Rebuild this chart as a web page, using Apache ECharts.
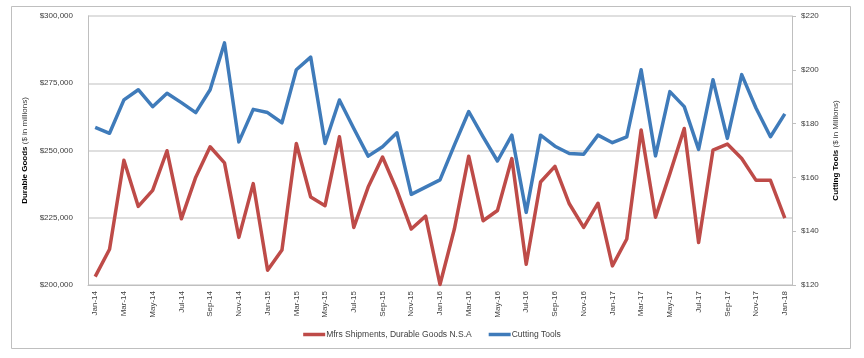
<!DOCTYPE html>
<html>
<head>
<meta charset="utf-8">
<script src="https://cdn.jsdelivr.net/npm/echarts@6/dist/echarts.min.js"></script>
<style>
html,body{margin:0;padding:0;background:#fff;}
#c{width:864px;height:358px;}
</style>
</head>
<body>
<div id="c"></div>
<script>
const categories = ['Jan-14','Feb-14','Mar-14','Apr-14','May-14','Jun-14','Jul-14','Aug-14','Sep-14','Oct-14','Nov-14','Dec-14',
'Jan-15','Feb-15','Mar-15','Apr-15','May-15','Jun-15','Jul-15','Aug-15','Sep-15','Oct-15','Nov-15','Dec-15',
'Jan-16','Feb-16','Mar-16','Apr-16','May-16','Jun-16','Jul-16','Aug-16','Sep-16','Oct-16','Nov-16','Dec-16',
'Jan-17','Feb-17','Mar-17','Apr-17','May-17','Jun-17','Jul-17','Aug-17','Sep-17','Oct-17','Nov-17','Dec-17',
'Jan-18'];
const durableGoods = [203100,213300,246400,229200,235200,249900,224600,240100,251400,245400,217700,237700,
205500,213000,252600,232700,229500,255100,221400,236400,247600,235200,220800,225600,
200200,220800,247900,223900,227700,247000,207700,238300,244100,230200,221400,230400,
207100,217100,257600,225200,241400,258200,215800,250100,252400,247000,238900,238900,
224900];
const cuttingTools = [178.6,176.4,188.8,192.6,186.3,191.3,187.8,184.1,192.6,210.0,173.2,185.3,
184.1,180.3,200.0,204.7,172.6,188.8,178.2,167.9,171.4,176.6,153.7,156.4,
159.1,172.0,184.5,175.1,166.1,175.7,147.0,175.7,171.6,168.9,168.6,175.7,
172.9,175.1,200.0,168.0,191.9,186.3,170.4,196.3,174.5,198.2,185.7,175.1,
183.6];
const seriesNames = ['Mfrs Shipments, Durable Goods N.S.A', 'Cutting Tools'];
const leftTicks = {min:200000, max:300000, step:25000};
const rightTicks = {min:120, max:220, step:20};

const FONT = 'Liberation Sans';
const TXT = '#404040';
const chart = echarts.init(document.getElementById('c'), null, {renderer:'canvas'});
chart.setOption({
  animation:false,
  textStyle:{fontFamily:FONT},
  graphic:[{type:'rect', shape:{x:11.5,y:6.5,width:839,height:342}, style:{fill:null, stroke:'#bfbfbf', lineWidth:1}, silent:true}],
  grid:{left:88, right:72, top:16, bottom:73, containLabel:false},
  legend:{
    data:seriesNames, bottom:14, left:'center', icon:'rect', itemWidth:22, itemHeight:3.5, itemGap:17,
    textStyle:{fontSize:8.5, color:TXT, fontFamily:FONT, padding:[0,0,0,-4]}
  },
  xAxis:{
    type:'category', data:categories, boundaryGap:true,
    axisLine:{show:true, lineStyle:{color:'#bfbfbf', width:1}},
    axisTick:{show:false},
    axisLabel:{rotate:90, interval:1, fontSize:8, color:TXT, margin:6, fontFamily:FONT}
  },
  yAxis:[{
    type:'value', min:leftTicks.min, max:leftTicks.max, interval:leftTicks.step,
    name:'{b|Durable Goods} ($ in millions)', nameLocation:'middle', nameGap:52, nameRotate:90,
    nameTextStyle:{fontSize:8, color:TXT, fontFamily:FONT, rich:{b:{fontWeight:'bold', fontSize:8, color:'#000', fontFamily:FONT}}},
    axisLine:{show:true, lineStyle:{color:'#bfbfbf'}},
    axisTick:{show:false},
    axisLabel:{fontSize:8, color:TXT, margin:15, fontFamily:FONT, formatter:v=>'$'+v.toLocaleString('en-US')},
    splitLine:{show:true, lineStyle:{color:'#d4d4d4', width:1.5}}
  },{
    type:'value', min:rightTicks.min, max:rightTicks.max, interval:rightTicks.step, position:'right',
    name:'{b|Cutting Tools} ($ in Millions)', nameLocation:'middle', nameGap:40, nameRotate:90,
    nameTextStyle:{fontSize:8, color:TXT, fontFamily:FONT, rich:{b:{fontWeight:'bold', fontSize:8, color:'#000', fontFamily:FONT}}},
    axisLine:{show:true, lineStyle:{color:'#bfbfbf'}},
    axisTick:{show:true, length:4, lineStyle:{color:'#bfbfbf'}},
    axisLabel:{fontSize:8, color:TXT, margin:9, fontFamily:FONT, formatter:v=>'$'+v},
    splitLine:{show:false}
  }],
  series:[{
    name:seriesNames[0], type:'line', yAxisIndex:0, data:durableGoods, showSymbol:false, symbol:'none',
    lineStyle:{color:'#BE4B48', width:3.5, join:'round'}, itemStyle:{color:'#BE4B48'}
  },{
    name:seriesNames[1], type:'line', yAxisIndex:1, data:cuttingTools, showSymbol:false, symbol:'none',
    lineStyle:{color:'#3F7BBA', width:3.5, join:'round'}, itemStyle:{color:'#3F7BBA'}
  }]
});
</script>
</body>
</html>
